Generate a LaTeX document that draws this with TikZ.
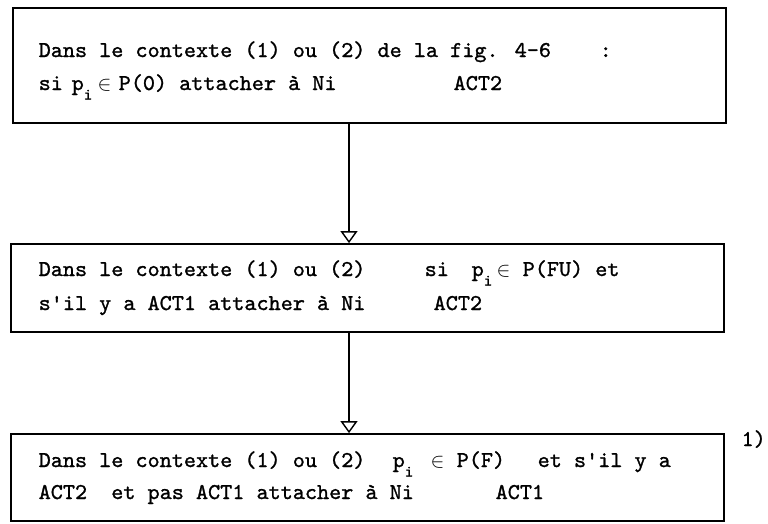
\documentclass[tikz,border=0pt]{standalone}
\usepackage{fontspec}
\usetikzlibrary{arrows.meta}
\newfontfamily\tw{lmmono10-regular}[Extension=.otf, FakeStretch=1.02, FakeBold=1.2]
\newcommand\seg[2]{\makebox[0pt][l]{\hspace*{#1pt}#2}}
\newcommand\subi{\raisebox{-9.5pt}{\fontsize{16}{16}\selectfont i}}
\begin{document}
\begin{tikzpicture}[x=1pt,y=-1pt,
  box/.style={draw, line width=1.8pt, minimum width=713pt, inner sep=0pt, rectangle},
  txt/.style={anchor=base west, inner sep=0pt, font=\tw\fontsize{22.6}{27}\selectfont},
  flow/.style={line width=1.5pt, -{Triangle[open, width=17pt, length=12pt, line width=1.4pt]}}]
\useasboundingbox (0,0) rectangle (768,523);
\node[box, minimum height=115pt] (b1) at (369.5,65.5) {};
\node[box, minimum height=88pt] (b2) at (367.5,288) {};
\node[box, minimum height=87pt] (b3) at (367.5,477.5) {};
\coordinate (ax) at (349,0);
\draw[flow] (b1.south -| ax) -- (b2.north -| ax);
\draw[flow] (b2.south -| ax) -- (b3.north -| ax);
\node[txt] (t11) at (38,57) {\seg{0}{Dans le contexte (1) ou (2) de la fig. 4-6}\seg{561}{:}};
\node[txt] (t12) at (38,90) {\seg{0}{si}\seg{33}{p\subi}\seg{59}{$\in$}\seg{80}{P(0) attacher à Ni}\seg{415}{ACT2}};
\node[txt] (t21) at (38,276) {\seg{0}{Dans le contexte (1) ou (2)}\seg{386}{si}\seg{433}{p\subi}\seg{458}{$\in$}\seg{484}{P(FU) et}};
\node[txt] (t22) at (38,310) {\seg{0}{s'il y a ACT1 attacher à Ni}\seg{395}{ACT2}};
\node[txt] (t31) at (38,467) {\seg{0}{Dans le contexte (1) ou (2)}\seg{354}{p\subi}\seg{392}{$\in$}\seg{418}{P(F)}\seg{499}{et s'il y a}};
\node[txt] (t32) at (38,499) {\seg{0}{ACT2~~et pas ACT1 attacher à Ni}\seg{457}{ACT1}};
\node[txt, anchor=base east] (n1) at (766,446) {1)};
\end{tikzpicture}
\end{document}
